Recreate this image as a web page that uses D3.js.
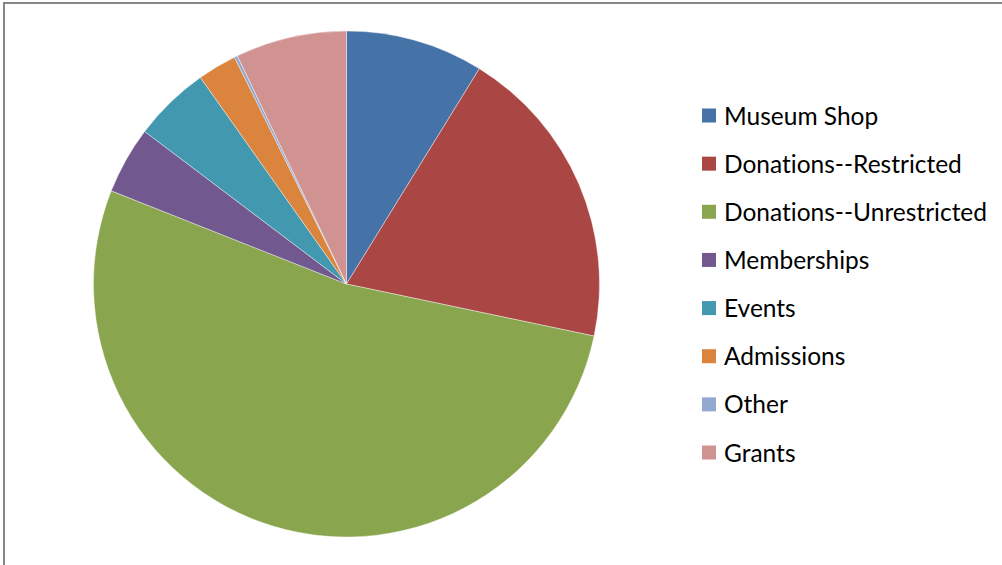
<!DOCTYPE html>
<html>
<head>
<meta charset="utf-8">
<script src="https://cdn.jsdelivr.net/npm/d3@7"></script>
<style>
  body { margin: 0; background: #fff; }
  .legend text { font-variant-ligatures: none; font-feature-settings: "liga" 0; }
</style>
</head>
<body>
<svg id="svg1" width="1002" height="565"></svg>
<script>
var categories = ['Museum Shop', 'Donations--Restricted', 'Donations--Unrestricted', 'Memberships', 'Events', 'Admissions', 'Other', 'Grants'];
var values = [8.8, 19.5, 52.7, 4.3, 4.9, 2.5, 0.2, 7.1];
var colors = ['#4572A7', '#AA4643', '#89A54E', '#71588F', '#4198AF', '#DB843D', '#93A9CF', '#D19392'];

var svg = d3.select('#svg1');

// chart border (right/bottom edges fall outside the window)
svg.append('rect')
    .attr('x', 4)
    .attr('y', 3)
    .attr('width', 1010)
    .attr('height', 580)
    .attr('fill', 'none')
    .attr('stroke', '#868686')
    .attr('stroke-width', 2);

var data = categories.map(function(c, i) { return {name: c, value: values[i], color: colors[i]}; });

var pie = d3.pie()
    .value(function(d) { return d.value; })
    .sort(null);

var arc = d3.arc()
    .innerRadius(0)
    .outerRadius(253);

var pieG = svg.append('g')
    .attr('transform', 'translate(' + [346.5, 284] + ')');

pieG.selectAll('path')
    .data(pie(data))
    .enter()
    .append('path')
      .attr('d', arc)
      .attr('fill', function(d) { return d.data.color; })
      .attr('stroke', '#ffffff')
      .attr('stroke-width', 0.4);

var legendY = d3.scalePoint()
    .domain(categories)
    .range([116, 453]);

var legend = svg.append('g').attr('class', 'legend');

var items = legend.selectAll('g')
    .data(data)
    .enter()
    .append('g')
      .attr('transform', function(d) { return 'translate(' + [702, legendY(d.name)] + ')'; });

items.append('rect')
    .attr('x', 0)
    .attr('y', -7.5)
    .attr('width', 14)
    .attr('height', 14)
    .attr('fill', function(d) { return d.color; });

items.append('text')
    .attr('x', 22)
    .attr('y', 0)
    .attr('dy', '0.35em')
    .text(function(d) { return d.name; })
    .style('font-size', '24.5px')
    .attr('font-family', 'Lato, sans-serif')
    .attr('fill', '#000');
</script>
</body>
</html>
